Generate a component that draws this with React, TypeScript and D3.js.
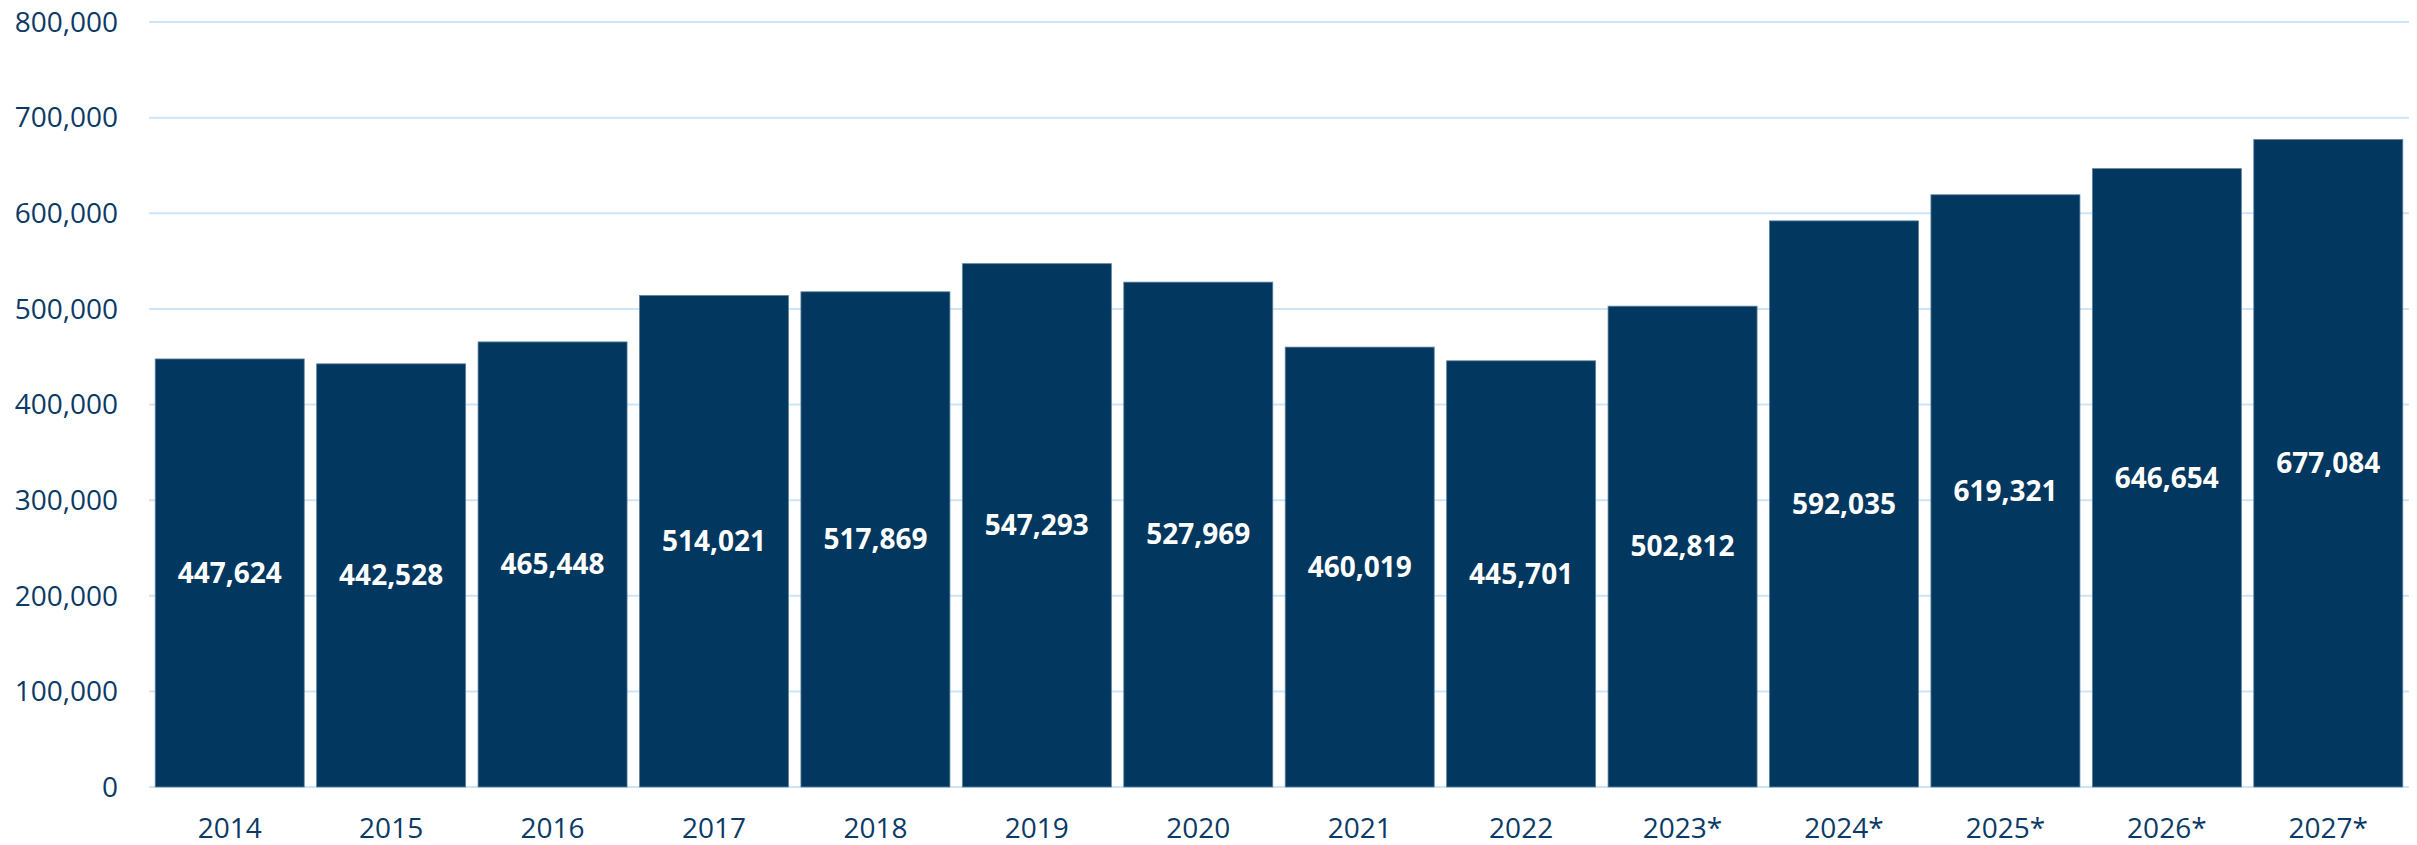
import React from "react";
import * as d3 from "d3";

const categories = ["2014","2015","2016","2017","2018","2019","2020","2021","2022","2023*","2024*","2025*","2026*","2027*"];
const values = [447624,442528,465448,514021,517869,547293,527969,460019,445701,502812,592035,619321,646654,677084];
const yTicks = [0,100000,200000,300000,400000,500000,600000,700000,800000];

const W = 2417, H = 845;
const margin = { left: 149, right: 8, top: 22, bottom: 58 };

export default function App() {
  const x = d3.scaleBand<string>().domain(categories).range([margin.left, W - margin.right]).paddingInner(0.077).paddingOuter(0.0385);
  const y = d3.scaleLinear().domain([0, 800000]).range([H - margin.bottom, margin.top]);
  const fmt = d3.format(",");
  const font = "'Open Sans', sans-serif";
  const axisColor = "#0b3a66";
  return (
    <svg width={W} height={H} style={{ position: "absolute", left: 0, top: 0, background: "#fff" }}>
      {yTicks.map(t => (
        <g key={t}>
          <line x1={margin.left} x2={W - margin.right} y1={y(t)} y2={y(t)} stroke="#cde5f9" strokeWidth={2} />
          <text x={118} y={y(t)} dy="0.35em" textAnchor="end" fontFamily={font} fontSize={28} fill={axisColor}>{fmt(t)}</text>
        </g>
      ))}
      {categories.map((c, i) => (
        <g key={c}>
          <rect x={x(c)} y={y(values[i])} width={x.bandwidth()} height={y(0) - y(values[i])} fill="#02375f" stroke="#5f82a0" strokeWidth={0.8} />
          <text x={(x(c) as number) + x.bandwidth() / 2} y={y(values[i] / 2)} dy="0.35em" textAnchor="middle" fontFamily={font} fontWeight={700} fontSize={28} fill="#ffffff">{fmt(values[i])}</text>
          <text x={(x(c) as number) + x.bandwidth() / 2} y={838} textAnchor="middle" fontFamily={font} fontSize={28} fill={axisColor}>{c}</text>
        </g>
      ))}
    </svg>
  );
}
